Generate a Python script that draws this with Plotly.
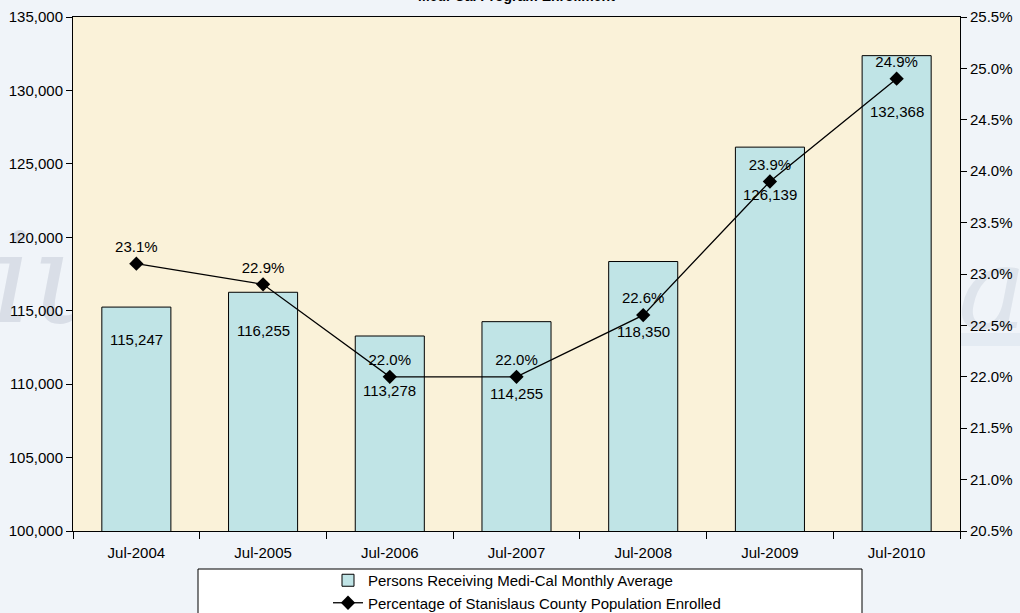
import base64
import plotly.graph_objects as go

# ---- data ----
categories = ["Jul-2004", "Jul-2005", "Jul-2006", "Jul-2007", "Jul-2008", "Jul-2009", "Jul-2010"]
persons = [115247, 116255, 113278, 114255, 118350, 126139, 132368]
pct_enrolled = [23.1, 22.9, 22.0, 22.0, 22.6, 23.9, 24.9]
bar_name = "Persons Receiving Medi-Cal Monthly Average"
line_name = "Percentage of Stanislaus County Population Enrolled"
title_text = "Medi-Cal Program Enrollment"
# pixel offsets of bar value labels below bar tops (styling)
bar_label_drop = [32, 38, 54, 72, 70, 47, 56]

W, H = 1020, 613
L, R, T, B = 73, 60, 17, 82
pw, ph = W - L - R, H - T - B
FONT = "Liberation Sans, Arial, sans-serif"


def px_x(p):
    return (p - L) / pw


def px_y(p):
    return (H - B - p) / ph


fig = go.Figure()
fig.add_trace(go.Bar(
    x=categories, y=persons, name=bar_name,
    marker=dict(color="#C0E4E6", line=dict(color="#000000", width=1)),
    width=0.545, yaxis="y",
))
fig.add_trace(go.Scatter(
    x=categories, y=pct_enrolled, name=line_name, yaxis="y2",
    mode="lines+markers+text",
    line=dict(color="#000000", width=1.3),
    marker=dict(symbol="diamond", size=11, color="#000000"),
    text=[f"{v:.1f}%" for v in pct_enrolled], textposition="top center",
    textfont=dict(size=15, color="#000000", family=FONT),
))

annotations = []
for c, v, d in zip(categories, persons, bar_label_drop):
    annotations.append(dict(x=c, y=v, xref="x", yref="y", text=f"{v:,}", showarrow=False,
                            yanchor="middle", yshift=-d, font=dict(size=15, color="#000", family=FONT)))
annotations.append(dict(x=0.5, y=px_y(6), xref="paper", yref="paper", text=f"<b>{title_text}</b>",
                        showarrow=False, yanchor="bottom", xanchor="center",
                        font=dict(size=14, color="#000", family=FONT)))

# watermark background (under everything)
svg = f'''<svg xmlns="http://www.w3.org/2000/svg" width="{W}" height="{H}">
<text x="-8" y="322" font-family="DejaVu Serif" font-style="italic" font-size="125" fill="#D9DEE7">iu</text>
<text x="958" y="328" font-family="DejaVu Serif" font-style="italic" font-size="115" fill="#DEE4EC">ao</text>
<rect x="960" y="333" width="60" height="13" fill="#E4EBF3"/>
</svg>'''
src = "data:image/svg+xml;base64," + base64.b64encode(svg.encode()).decode()

fig.update_layout(
    width=W, height=H,
    margin=dict(l=L, r=R, t=T, b=B, pad=0, autoexpand=False),
    paper_bgcolor="#F0F4F9", plot_bgcolor="rgba(0,0,0,0)",
    font=dict(family=FONT, size=15, color="#000"),
    bargap=0.455,
    showlegend=True,
    legend=dict(x=px_x(328), y=px_y(564), xanchor="left", yanchor="top",
                bgcolor="rgba(0,0,0,0)", borderwidth=0, font=dict(size=15), tracegroupgap=0,
                traceorder="normal"),
    xaxis=dict(type="category", showline=True, linecolor="#000", linewidth=1, mirror=True,
               ticks="outside", tickson="boundaries", ticklen=7, tickcolor="#000",
               showgrid=False, tickfont=dict(size=15), ticklabelstandoff=8),
    yaxis=dict(range=[100000, 135000], dtick=5000, tickformat=",", showline=True,
               linecolor="#000", linewidth=1, ticks="outside", ticklen=6, tickcolor="#000",
               showgrid=False, zeroline=False, tickfont=dict(size=15)),
    yaxis2=dict(range=[20.5, 25.5], dtick=0.5, tickformat=".1f", ticksuffix="%", overlaying="y",
                side="right", showline=True, linecolor="#000", linewidth=1, ticks="outside",
                ticklen=6, tickcolor="#000", showgrid=False, zeroline=False, tickfont=dict(size=15)),
    annotations=annotations,
    shapes=[
        dict(type="rect", xref="paper", yref="paper", x0=0, x1=1, y0=0, y1=1,
             fillcolor="#FAF2D9", line=dict(width=0), layer="below"),
        dict(type="rect", xref="paper", yref="paper", x0=px_x(198), x1=px_x(862),
             y0=px_y(569), y1=px_y(640), fillcolor="#FFFFFF",
             line=dict(color="#000", width=1), layer="above"),
    ],
    images=[dict(source=src, xref="paper", yref="paper", x=px_x(0), y=px_y(0),
                 sizex=W / pw, sizey=H / ph, xanchor="left", yanchor="top",
                 sizing="stretch", layer="below")],
)

fig.write_html("out.html")
